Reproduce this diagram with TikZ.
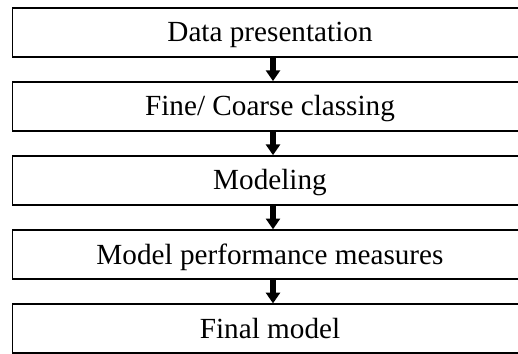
\documentclass[tikz,border=0pt]{standalone}
\usepackage{fontspec}
\setmainfont{Liberation Serif}
\usetikzlibrary{arrows.meta}

\tikzset{
    stage/.style={draw, line width=0.8pt, rectangle, minimum width=257.5pt,
        minimum height=24.5pt, inner sep=0pt, text height=10pt, text depth=0.6pt,
        font=\fontsize{14.6}{17}\selectfont},
    flow/.style={line width=2.6pt, -{Triangle[width=7pt,length=5.4pt]}}
}

\begin{document}
\begin{tikzpicture}[x=0.5pt, y=-0.5pt]
    % page frame, cuts the right side of the boxes
    \clip (0,0) rectangle (518,353);

    % stages
    \foreach \i/\txt in {1/{Data presentation}, 2/{Fine/ Coarse classing}, 3/{Modeling},
                         4/{Model performance measures}, 5/{Final model}}
        \node[stage] (s\i) at (270, {32.3 + 74.1*(\i-1)}) {\txt};

    % arrows between stages
    \foreach \i [evaluate=\i as \j using int(\i+1)] in {1,...,4}
        \draw[flow] ([xshift=1.5pt]s\i.south) -- ([xshift=1.5pt]s\j.north);
\end{tikzpicture}
\end{document}
